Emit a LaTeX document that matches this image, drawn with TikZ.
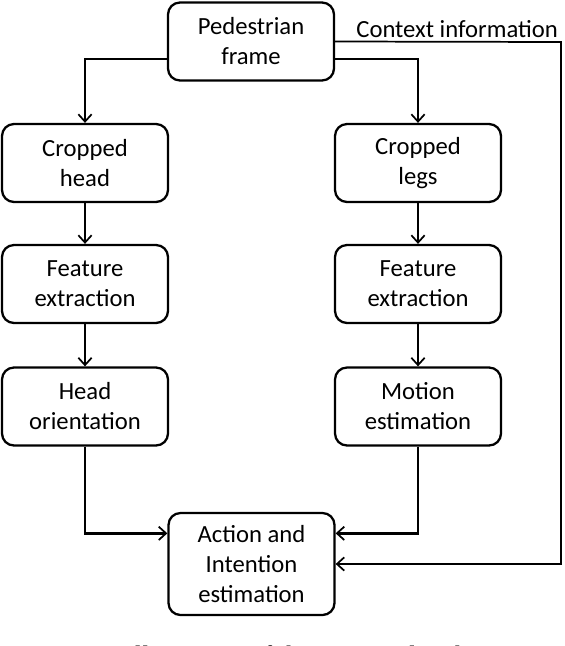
\documentclass[tikz,border=0pt]{standalone}
\usepackage{fontspec}
\setmainfont{Carlito}
\newfontfamily\capfont{Liberation Serif}
\usetikzlibrary{arrows.meta}

\begin{document}
\begin{tikzpicture}[x=0.75pt,y=0.75pt,yscale=-1,xscale=1,
  blk/.style={draw, line width=1.7pt, rounded corners=9pt, minimum width=124.5pt, minimum height=58.5pt, inner sep=0pt, align=center, font=\fontsize{18.5}{22.5}\selectfont},
  conn/.style={line width=1.9pt, -{Straight Barb[length=5.5pt,width=10pt,line width=1.3pt]}},
  ctxline/.style={line width=1.3pt, -{Straight Barb[length=5.5pt,width=10pt,line width=1.3pt]}}]
\useasboundingbox (0,0) rectangle (564,646);

%Rounded Rect 
\node [blk] (ped) at (251,41.5) {Pedestrian\\frame};
%Rounded Rect 
\node [blk] (head) at (85,163) {Cropped\\head};
%Rounded Rect 
\node [blk] (feath) at (85,284) {Feature\\extraction};
%Rounded Rect 
\node [blk] (orient) at (85,406.5) {Head\\orientation};
%Rounded Rect 
\node [blk] (legs) at (418,163) {Cropped\\legs};
%Rounded Rect 
\node [blk] (featl) at (418,284) {Feature\\extraction};
%Rounded Rect 
\node [blk] (motion) at (418,406.5) {Motion\\estimation};
%Rounded Rect 
\node [blk, minimum height=76.5pt] (act) at (251.5,564) {Action and\\Intention\\estimation};

%Connectors 
\draw [conn] ([yshift=13pt]ped.west) -| (head.north);
\draw [conn] ([yshift=13pt]ped.east) -| (legs.north);
\draw [conn] (head) -- (feath);
\draw [conn] (feath) -- (orient);
\draw [conn] (legs) -- (featl);
\draw [conn] (featl) -- (motion);
\draw [conn] (orient.south) |- ([yshift=-23pt]act.west);
\draw [conn] (motion.south) |- ([yshift=-23pt]act.east);

%Context line 
\coordinate (ctx) at (561,42);
\draw [ctxline] (ped.east) -- node [above, pos=0.54, inner sep=2.5pt, font=\fontsize{18.5}{22.5}\selectfont] (ctxlbl) {Context information} (ctx) |- (act.east);

% Text Node
\node [anchor=base, font=\capfont\fontsize{20}{24}\selectfont] (cap) at (297,664) {Fig. 3: Illustration of the proposed architecture};

\end{tikzpicture}
\end{document}
